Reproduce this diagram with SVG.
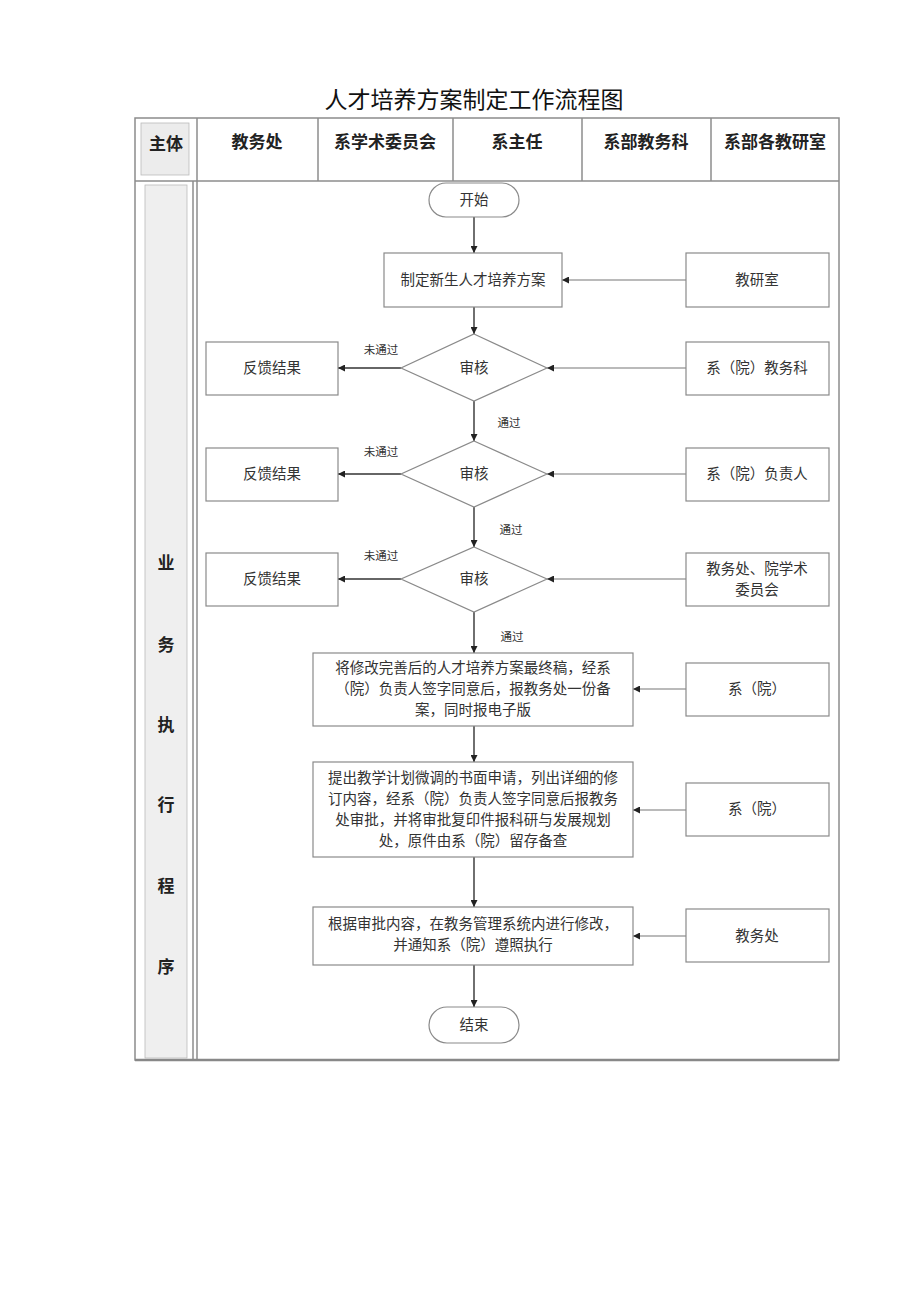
<svg xmlns="http://www.w3.org/2000/svg" width="920" height="1301" viewBox="0 0 920 1301">
<defs>
<marker id="ah" viewBox="0 0 10 10" refX="10" refY="5" markerWidth="7" markerHeight="7" orient="auto" markerUnits="userSpaceOnUse">
<path d="M0,0 L10,5 L0,10 z" fill="#222"/>
</marker>
<style>
.tbl{fill:none;stroke:#8c8c8c;stroke-width:1.5}
.box{fill:#fff;stroke:#8a8a8a;stroke-width:1.2}
.hd{font-family:"Noto Sans CJK SC","Noto Sans CJK TC",sans-serif;font-weight:bold;font-size:17px;fill:#222;text-anchor:middle}
.t{font-family:"Noto Sans CJK SC",sans-serif;font-size:14.5px;fill:#333;text-anchor:middle}
.lb{font-family:"Noto Sans CJK SC",sans-serif;font-size:11.5px;fill:#333;text-anchor:middle}
.v{stroke:#333;stroke-width:1.4;fill:none;marker-end:url(#ah)}
.h{stroke:#777;stroke-width:1.2;fill:none;marker-end:url(#ah)}
</style>
</defs>
<rect width="920" height="1301" fill="#fff"/>
<text x="474" y="108" font-family="'Noto Sans CJK SC',sans-serif" font-size="23" fill="#111" text-anchor="middle">人才培养方案制定工作流程图</text>
<g id="table">
<rect x="135" y="118" width="704" height="942" class="tbl"/>
<line x1="135" y1="181" x2="839" y2="181" class="tbl"/>
<line x1="197" y1="118" x2="197" y2="1060" class="tbl"/>
<line x1="193" y1="181" x2="193" y2="1060" class="tbl" stroke-width="1"/>
<line x1="318" y1="118" x2="318" y2="181" class="tbl"/>
<line x1="453" y1="118" x2="453" y2="181" class="tbl"/>
<line x1="582" y1="118" x2="582" y2="181" class="tbl"/>
<line x1="711" y1="118" x2="711" y2="181" class="tbl"/>
<rect x="141" y="123" width="48" height="52" fill="#ececec" stroke="#bbb" stroke-width="0.8"/>
<rect x="145" y="185" width="42" height="873" fill="#efefef" stroke="#bbb" stroke-width="0.8"/>
<line x1="135" y1="1060" x2="839" y2="1060" stroke="#888" stroke-width="2.5"/>
</g>
<g id="headers">
<text x="166" y="150" class="hd">主体</text>
<text x="257" y="148" class="hd">教务处</text>
<text x="385" y="148" class="hd">系学术委员会</text>
<text x="517" y="148" class="hd">系主任</text>
<text x="646" y="148" class="hd">系部教务科</text>
<text x="775" y="148" class="hd">系部各教研室</text>
</g>
<g id="lane-label">
<text x="166" y="569" class="hd">业</text>
<text x="166" y="651" class="hd">务</text>
<text x="166" y="731" class="hd">执</text>
<text x="166" y="811" class="hd">行</text>
<text x="166" y="892" class="hd">程</text>
<text x="166" y="973" class="hd">序</text>
</g>
<g id="connectors">
<line x1="474" y1="217" x2="474" y2="253" class="v"/>
<line x1="474" y1="307" x2="474" y2="334" class="v"/>
<line x1="474" y1="401" x2="474" y2="441" class="v"/>
<line x1="474" y1="507" x2="474" y2="547" class="v"/>
<line x1="474" y1="612" x2="474" y2="653" class="v"/>
<line x1="474" y1="726" x2="474" y2="762" class="v"/>
<line x1="474" y1="857" x2="474" y2="907" class="v"/>
<line x1="474" y1="965" x2="474" y2="1007" class="v"/>
<line x1="401" y1="368" x2="338" y2="368" class="v"/>
<line x1="401" y1="474" x2="338" y2="474" class="v"/>
<line x1="401" y1="579" x2="338" y2="579" class="v"/>
<line x1="686" y1="280" x2="562" y2="280" class="h"/>
<line x1="686" y1="368" x2="547" y2="368" class="h"/>
<line x1="686" y1="474" x2="547" y2="474" class="h"/>
<line x1="686" y1="579" x2="547" y2="579" class="h"/>
<line x1="686" y1="689" x2="633" y2="689" class="h"/>
<line x1="686" y1="810" x2="633" y2="810" class="h"/>
<line x1="686" y1="936" x2="633" y2="936" class="h"/>
<text x="381" y="354" class="lb">未通过</text>
<text x="381" y="456" class="lb">未通过</text>
<text x="381" y="560" class="lb">未通过</text>
<text x="509" y="427" class="lb">通过</text>
<text x="511" y="534" class="lb">通过</text>
<text x="512" y="641" class="lb">通过</text>
</g>
<g id="start"><rect x="429" y="183" width="90" height="34" rx="17" class="box" stroke="#444"/><text x="474" y="205" class="t">开始</text></g>
<g id="make"><rect x="384" y="253" width="178" height="54" class="box"/><text x="473" y="285" class="t">制定新生人才培养方案</text></g>
<g id="jys"><rect x="686" y="253" width="143" height="54" class="box"/><text x="757" y="285" class="t">教研室</text></g>
<g id="d1"><polygon points="474,334 547,368 474,401 401,368" class="box"/><text x="474" y="373" class="t">审核</text></g>
<g id="fb1"><rect x="206" y="342" width="132" height="53" class="box"/><text x="272" y="373" class="t">反馈结果</text></g>
<g id="r1"><rect x="686" y="342" width="143" height="53" class="box"/><text x="757" y="373" class="t">系（院）教务科</text></g>
<g id="d2"><polygon points="474,441 547,474 474,507 401,474" class="box"/><text x="474" y="479" class="t">审核</text></g>
<g id="fb2"><rect x="206" y="448" width="132" height="53" class="box"/><text x="272" y="479" class="t">反馈结果</text></g>
<g id="r2"><rect x="686" y="448" width="143" height="53" class="box"/><text x="757" y="479" class="t">系（院）负责人</text></g>
<g id="d3"><polygon points="474,547 547,579 474,612 401,579" class="box"/><text x="474" y="584" class="t">审核</text></g>
<g id="fb3"><rect x="206" y="553" width="132" height="53" class="box"/><text x="272" y="584" class="t">反馈结果</text></g>
<g id="r3"><rect x="686" y="553" width="143" height="53" class="box"/><text x="757" y="574" class="t">教务处、院学术</text><text x="757" y="595" class="t">委员会</text></g>
<g id="boxA"><rect x="313" y="653" width="320" height="73" class="box"/>
<text x="473" y="673" class="t">将修改完善后的人才培养方案最终稿，经系</text>
<text x="473" y="694" class="t">（院）负责人签字同意后，报教务处一份备</text>
<text x="473" y="715" class="t">案，同时报电子版</text></g>
<g id="rA"><rect x="686" y="663" width="143" height="53" class="box"/><text x="757" y="694" class="t">系（院）</text></g>
<g id="boxB"><rect x="313" y="762" width="320" height="95" class="box"/>
<text x="473" y="783" class="t">提出教学计划微调的书面申请，列出详细的修</text>
<text x="473" y="804" class="t">订内容，经系（院）负责人签字同意后报教务</text>
<text x="473" y="825" class="t">处审批，并将审批复印件报科研与发展规划</text>
<text x="473" y="846" class="t">处，原件由系（院）留存备查</text></g>
<g id="rB"><rect x="686" y="783" width="143" height="53" class="box"/><text x="757" y="814" class="t">系（院）</text></g>
<g id="boxC"><rect x="313" y="907" width="320" height="58" class="box"/>
<text x="473" y="929" class="t">根据审批内容，在教务管理系统内进行修改，</text>
<text x="473" y="950" class="t">并通知系（院）遵照执行</text></g>
<g id="rC"><rect x="686" y="909" width="143" height="53" class="box"/><text x="757" y="941" class="t">教务处</text></g>
<g id="end"><rect x="429" y="1007" width="90" height="36" rx="18" class="box" stroke="#444"/><text x="474" y="1030" class="t">结束</text></g>
</svg>
